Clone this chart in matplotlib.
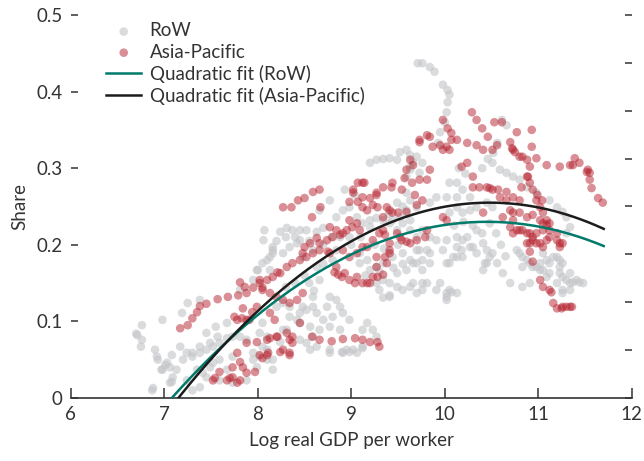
import numpy as np
import matplotlib
matplotlib.use("Agg")
import matplotlib.pyplot as plt

plt.rcParams['font.family'] = ['Lato', 'DejaVu Sans']

# values (log real GDP per worker, share)
row_points = [
    (8.07, 0.219), (8.06, 0.206), (6.76, 0.095), (6.70, 0.084), (6.76, 0.076), (6.75, 0.067), (6.98, 0.102),
    (7.19, 0.111), (7.25, 0.124), (7.38, 0.128), (6.90, 0.063), (6.93, 0.050), (7.01, 0.043), (6.97, 0.037),
    (7.08, 0.056), (7.06, 0.040), (7.13, 0.037), (7.08, 0.021), (6.88, 0.013), (7.20, 0.050), (7.30, 0.059),
    (7.38, 0.067), (7.49, 0.072), (7.57, 0.080), (7.67, 0.098), (7.55, 0.093), (7.45, 0.085), (7.24, 0.023),
    (7.35, 0.037), (7.41, 0.033), (7.49, 0.040), (7.59, 0.023), (7.67, 0.037), (7.81, 0.141), (7.95, 0.154),
    (8.00, 0.167), (8.10, 0.180), (8.16, 0.189), (8.13, 0.167), (7.88, 0.076), (7.95, 0.059), (8.05, 0.067),
    (8.10, 0.050), (7.99, 0.040), (8.16, 0.037), (7.73, 0.054), (7.88, 0.023), (7.73, 0.020), (6.92, 0.054),
    (7.03, 0.046), (6.98, 0.037), (7.09, 0.027), (7.06, 0.020), (7.17, 0.067), (7.24, 0.059), (7.30, 0.054),
    (7.38, 0.059), (7.45, 0.063), (7.52, 0.067), (7.59, 0.072), (7.67, 0.078), (7.73, 0.080), (7.81, 0.080),
    (7.52, 0.046), (7.59, 0.050), (7.45, 0.027), (7.38, 0.014), (7.30, 0.010), (7.95, 0.050), (8.02, 0.054),
    (8.10, 0.063), (8.16, 0.050), (8.45, 0.076), (8.52, 0.072), (8.59, 0.080), (6.87, 0.010), (6.71, 0.082),
    (9.20, 0.307), (9.27, 0.311), (9.34, 0.312), (9.41, 0.313), (9.49, 0.311), (9.52, 0.321), (9.59, 0.324),
    (9.63, 0.317), (9.66, 0.308), (9.63, 0.298), (9.59, 0.289), (9.70, 0.315), (9.76, 0.307), (9.73, 0.294),
    (8.24, 0.217), (8.31, 0.222), (8.37, 0.219), (8.45, 0.219), (8.52, 0.219), (8.63, 0.217), (8.70, 0.222),
    (8.16, 0.197), (8.13, 0.184), (8.05, 0.176), (7.99, 0.167), (8.27, 0.189), (8.34, 0.197), (8.42, 0.202),
    (9.20, 0.232), (9.27, 0.235), (9.34, 0.232), (9.44, 0.232), (9.52, 0.236), (9.49, 0.255), (9.59, 0.268),
    (9.63, 0.258), (9.09, 0.189), (9.17, 0.180), (9.09, 0.176), (9.20, 0.167), (9.27, 0.171), (9.34, 0.176),
    (9.44, 0.184), (9.55, 0.189), (9.63, 0.180), (9.70, 0.176), (9.76, 0.180), (9.81, 0.193), (9.70, 0.193),
    (9.49, 0.145), (9.55, 0.141), (9.63, 0.145), (9.70, 0.137), (9.76, 0.141), (9.41, 0.132), (8.20, 0.119),
    (8.27, 0.124), (8.34, 0.119), (8.34, 0.106), (8.42, 0.102), (8.45, 0.111), (8.48, 0.119), (8.59, 0.119),
    (8.63, 0.111), (8.70, 0.102), (8.77, 0.093), (8.66, 0.089), (8.56, 0.093), (8.05, 0.098), (8.02, 0.085),
    (8.10, 0.080), (8.27, 0.089), (8.24, 0.073), (9.17, 0.098), (9.23, 0.089), (9.27, 0.080), (9.12, 0.067),
    (9.02, 0.063), (8.95, 0.063), (8.90, 0.060), (8.77, 0.063), (8.63, 0.067), (8.56, 0.063), (8.84, 0.128),
    (8.88, 0.119), (8.91, 0.111), (8.98, 0.102),
    (9.71, 0.437), (9.76, 0.437), (9.84, 0.432), (9.89, 0.426), (9.98, 0.409), (10.03, 0.402), (10.05, 0.396),
    (10.03, 0.386), (10.02, 0.373), (10.00, 0.360), (9.95, 0.347), (9.93, 0.333), (9.63, 0.302),
    (10.05, 0.281), (10.13, 0.281), (10.19, 0.272), (10.27, 0.262), (10.13, 0.262), (10.02, 0.262), (9.91, 0.262),
    (9.84, 0.255), (9.70, 0.249), (9.59, 0.245), (10.13, 0.249), (10.05, 0.242), (10.19, 0.242), (10.27, 0.245),
    (10.34, 0.249), (10.45, 0.255), (10.51, 0.249), (10.48, 0.228), (10.34, 0.219), (10.24, 0.210), (10.13, 0.210),
    (10.02, 0.206), (9.91, 0.206), (9.84, 0.210), (9.76, 0.219), (9.70, 0.210), (9.73, 0.193), (9.84, 0.189),
    (9.98, 0.193), (10.13, 0.197), (10.27, 0.197), (10.41, 0.202), (10.45, 0.193), (10.51, 0.189), (10.56, 0.176),
    (10.62, 0.163), (10.70, 0.150), (10.45, 0.176), (10.34, 0.189), (10.19, 0.184), (10.13, 0.184), (10.05, 0.176),
    (9.66, 0.176), (9.59, 0.167), (9.49, 0.163), (9.34, 0.154), (9.41, 0.150), (9.27, 0.150), (9.66, 0.150),
    (9.76, 0.150), (9.95, 0.150), (10.05, 0.141), (10.13, 0.137), (10.02, 0.132), (9.91, 0.141),
    (10.77, 0.193), (10.83, 0.184), (10.91, 0.176), (10.98, 0.171), (11.05, 0.167), (11.12, 0.176), (11.20, 0.184),
    (11.23, 0.171), (11.26, 0.158), (11.34, 0.150), (11.41, 0.154), (11.48, 0.150), (11.26, 0.141), (11.20, 0.150),
    (10.91, 0.150), (10.83, 0.145), (8.98, 0.249), (8.91, 0.245), (8.84, 0.236), (9.06, 0.236), (9.12, 0.228),
    (9.20, 0.223), (9.41, 0.228), (9.49, 0.219), (9.55, 0.228), (9.63, 0.232), (9.63, 0.219), (8.79, 0.210),
    (8.88, 0.210), (8.98, 0.210), (8.84, 0.193),
    (10.61, 0.363), (10.66, 0.356), (10.51, 0.307), (10.59, 0.298), (10.66, 0.294), (10.73, 0.289), (10.80, 0.285),
    (10.88, 0.275), (10.98, 0.268), (11.12, 0.258), (11.20, 0.249), (11.26, 0.243), (11.30, 0.236), (11.34, 0.223),
    (11.30, 0.215), (10.48, 0.184), (10.43, 0.176), (10.41, 0.167), (10.80, 0.189), (10.88, 0.180), (10.94, 0.171),
    (11.02, 0.176), (11.09, 0.180), (11.16, 0.184), (11.23, 0.180), (11.23, 0.163), (11.30, 0.154), (11.37, 0.151),
    (11.44, 0.151), (11.09, 0.158), (11.02, 0.167), (10.83, 0.171), (11.26, 0.137), (11.12, 0.163), (11.05, 0.189),
    (9.12, 0.089), (8.88, 0.089), (8.91, 0.059), (8.98, 0.060), (9.06, 0.059), (9.12, 0.065), (9.81, 0.150),
    (10.02, 0.137), (10.07, 0.138), (10.02, 0.128), (9.34, 0.131), (9.41, 0.134), (9.30, 0.141), (10.19, 0.206),
    (10.30, 0.197), (10.18, 0.193), (10.09, 0.184), (10.02, 0.176), (9.84, 0.176), (9.76, 0.167), (11.26, 0.176),
    (11.34, 0.163), (11.34, 0.141), (8.77, 0.059), (8.16, 0.193), (8.45, 0.206), (8.48, 0.184), (8.59, 0.193),
    (8.63, 0.171), (8.66, 0.154), (8.77, 0.132), (8.74, 0.119), (8.80, 0.106), (8.59, 0.132), (8.52, 0.115),
    (8.45, 0.098), (8.31, 0.089), (8.93, 0.272), (9.04, 0.265), (8.77, 0.258), (8.66, 0.245),
    (10.15, 0.300), (10.22, 0.293), (10.40, 0.300), (10.46, 0.312), (10.52, 0.320), (10.56, 0.333),
    (8.20, 0.205), (8.30, 0.210), (8.40, 0.210), (8.55, 0.205), (8.70, 0.200), (8.50, 0.160), (8.55, 0.150),
    (8.40, 0.150), (8.30, 0.145), (8.60, 0.140), (8.70, 0.175), (8.80, 0.180), (9.00, 0.200), (9.10, 0.210),
    (9.25, 0.200), (9.35, 0.195), (9.50, 0.200), (9.15, 0.160), (9.30, 0.165), (9.45, 0.170), (9.55, 0.175),
    (9.40, 0.240), (9.55, 0.250), (10.10, 0.225), (10.20, 0.230), (10.30, 0.225), (10.40, 0.215), (10.55, 0.215),
    (10.60, 0.200), (10.65, 0.185),
]

ap_points = [
    (7.17, 0.091), (7.25, 0.095), (7.30, 0.104), (7.35, 0.112), (7.38, 0.120), (7.45, 0.123), (7.57, 0.129),
    (7.68, 0.132), (7.79, 0.134), (7.81, 0.151), (7.86, 0.145), (7.88, 0.137), (7.95, 0.144), (8.02, 0.154),
    (8.10, 0.154), (8.16, 0.158), (8.21, 0.164), (8.05, 0.144), (7.75, 0.106), (7.78, 0.102), (7.83, 0.104),
    (7.88, 0.102), (7.94, 0.112), (7.84, 0.117), (7.88, 0.072), (7.99, 0.073), (8.10, 0.076), (8.20, 0.080),
    (7.78, 0.059), (7.81, 0.047), (7.73, 0.040), (7.59, 0.034), (7.54, 0.026), (7.67, 0.023), (7.73, 0.027),
    (7.78, 0.020), (7.81, 0.023), (7.88, 0.033), (7.97, 0.034), (8.05, 0.052), (8.11, 0.059), (7.84, 0.040),
    (7.52, 0.023), (7.70, 0.026), (8.13, 0.078), (8.31, 0.085), (8.34, 0.076), (8.10, 0.056), (8.24, 0.060),
    (8.34, 0.056), (8.27, 0.063),
    (8.27, 0.249), (8.36, 0.249), (8.43, 0.258), (8.50, 0.261), (8.59, 0.269), (8.66, 0.272), (8.67, 0.249),
    (8.58, 0.236), (9.07, 0.281), (9.14, 0.281), (9.02, 0.268), (8.98, 0.256), (9.07, 0.256), (9.20, 0.261),
    (9.27, 0.265), (9.34, 0.275), (9.44, 0.281), (9.57, 0.287), (9.66, 0.304), (9.73, 0.334), (9.81, 0.343),
    (9.12, 0.249), (9.17, 0.245), (9.23, 0.252), (9.28, 0.249), (9.41, 0.245), (9.50, 0.242), (9.59, 0.243),
    (9.70, 0.252), (9.76, 0.258), (9.68, 0.265), (8.77, 0.223), (8.84, 0.219), (8.88, 0.213), (8.91, 0.215),
    (8.95, 0.219), (8.98, 0.232), (9.01, 0.223), (9.06, 0.228), (9.09, 0.219), (8.80, 0.210), (8.74, 0.206),
    (8.66, 0.202), (8.63, 0.209), (8.56, 0.202), (8.50, 0.197), (8.48, 0.189), (8.45, 0.180), (8.52, 0.184),
    (8.59, 0.189), (8.66, 0.193), (8.75, 0.191), (8.82, 0.164), (8.86, 0.161), (8.90, 0.158), (8.93, 0.163),
    (8.98, 0.154), (9.04, 0.150), (9.06, 0.158), (9.12, 0.150), (9.20, 0.150), (9.28, 0.158), (9.34, 0.161),
    (9.17, 0.197), (9.23, 0.206), (9.30, 0.215), (9.36, 0.213), (9.41, 0.202), (9.49, 0.215), (9.52, 0.210),
    (9.59, 0.204), (9.70, 0.206), (9.79, 0.210), (9.81, 0.219), (9.38, 0.176), (9.36, 0.184), (9.27, 0.184),
    (8.02, 0.150), (8.24, 0.163), (8.31, 0.171), (8.37, 0.176), (8.05, 0.141), (8.13, 0.137), (8.20, 0.132),
    (8.27, 0.128), (8.34, 0.124), (8.42, 0.128), (8.48, 0.137), (7.99, 0.119), (7.91, 0.102), (8.13, 0.111),
    (8.18, 0.102), (8.21, 0.080), (8.37, 0.080), (8.45, 0.098), (8.37, 0.072), (8.34, 0.059), (8.58, 0.080),
    (8.66, 0.076), (8.79, 0.074), (8.91, 0.077), (9.04, 0.078), (9.12, 0.076), (9.20, 0.073), (9.28, 0.073),
    (9.30, 0.067), (8.02, 0.056),
    (10.29, 0.373), (10.34, 0.363), (10.40, 0.352), (10.53, 0.360), (10.61, 0.360), (10.77, 0.347), (10.93, 0.350),
    (10.46, 0.341), (10.56, 0.330), (10.70, 0.334), (10.72, 0.326), (10.75, 0.321), (10.80, 0.315), (10.88, 0.311),
    (10.91, 0.302), (10.93, 0.328), (10.98, 0.313), (11.09, 0.304), (11.23, 0.302), (11.34, 0.304), (11.39, 0.313),
    (11.44, 0.307), (11.52, 0.295), (9.98, 0.363), (10.03, 0.352), (10.07, 0.346), (10.07, 0.337), (10.02, 0.328),
    (10.05, 0.324), (10.13, 0.337), (10.24, 0.333), (10.34, 0.330), (10.41, 0.324), (10.51, 0.324), (10.24, 0.307),
    (10.18, 0.302), (10.30, 0.289), (9.73, 0.337), (9.84, 0.341), (9.87, 0.328), (9.95, 0.330), (9.98, 0.324),
    (9.63, 0.311), (9.59, 0.298), (9.84, 0.298), (9.81, 0.285), (9.73, 0.285), (9.65, 0.281), (9.54, 0.272),
    (9.43, 0.275), (9.27, 0.268), (9.12, 0.281), (9.02, 0.272), (9.12, 0.262),
    (10.30, 0.275), (10.37, 0.275), (10.45, 0.275), (10.51, 0.272), (10.59, 0.262), (10.66, 0.258), (10.73, 0.262),
    (10.82, 0.275), (10.88, 0.289), (10.91, 0.281), (10.94, 0.272), (10.98, 0.258), (11.02, 0.249), (11.05, 0.242),
    (11.09, 0.232), (11.12, 0.228), (10.70, 0.245), (10.62, 0.236), (10.73, 0.232), (10.77, 0.219), (10.83, 0.219),
    (10.91, 0.215), (10.94, 0.206), (10.88, 0.202), (10.98, 0.202), (11.05, 0.197), (11.12, 0.210), (11.20, 0.206),
    (11.23, 0.202), (11.05, 0.228), (10.41, 0.242), (9.98, 0.236), (10.02, 0.232), (9.44, 0.242), (9.38, 0.249),
    (9.34, 0.236), (9.63, 0.202), (9.54, 0.206), (9.41, 0.189), (9.27, 0.171), (9.23, 0.158), (9.17, 0.150),
    (8.84, 0.171), (8.77, 0.189), (8.91, 0.193), (8.98, 0.184), (9.06, 0.189), (9.12, 0.197), (9.34, 0.219),
    (9.41, 0.193), (11.02, 0.154), (11.05, 0.145), (11.12, 0.141), (11.26, 0.119), (11.34, 0.119),
    (11.37, 0.304), (11.53, 0.298), (11.55, 0.294), (11.55, 0.285), (11.57, 0.274), (11.64, 0.261), (11.69, 0.255),
    (10.73, 0.324), (10.83, 0.315), (10.89, 0.289), (10.99, 0.265), (11.04, 0.258), (10.48, 0.274), (10.57, 0.272),
    (10.66, 0.269), (10.80, 0.258), (10.73, 0.242), (10.80, 0.242), (10.88, 0.236), (10.94, 0.239), (11.02, 0.232),
    (11.09, 0.226), (11.12, 0.219), (11.20, 0.215), (11.26, 0.202), (11.23, 0.197), (10.70, 0.223), (10.73, 0.215),
    (10.80, 0.219), (10.88, 0.215), (10.94, 0.210), (10.91, 0.202), (10.98, 0.215), (11.05, 0.219), (11.09, 0.206),
    (11.02, 0.202), (10.91, 0.191), (10.94, 0.178), (11.14, 0.138), (11.16, 0.124), (11.20, 0.117), (11.25, 0.117),
    (11.30, 0.119), (11.36, 0.119),
]

# quadratic fits in vertex form: share = a * (x - h)^2 + k
row_fit = (-0.02025, 10.45, 0.230)
ap_fit = (-0.0230, 10.48, 0.255)
fit_range = (6.9, 11.7)

x_ticks = [6, 7, 8, 9, 10, 11, 12]
y_ticks = [0, 0.1, 0.2, 0.3, 0.4, 0.5]
y_tick_labels = ['0', '0.1', '0.2', '0.3', '0.4', '0.5']
right_ticks = [0, 0.0625, 0.125, 0.1875, 0.25, 0.3125, 0.375, 0.4375, 0.5]

GREY = '#c4c5c8'
RED = '#b5202c'
TEAL = '#007a6a'
BLACK = '#1c1c1c'
INK = '#333333'
FS = 13.5

fig = plt.figure(figsize=(6.44, 4.61), dpi=100)
ax = fig.add_axes([0.110, 0.1367, 0.871, 0.8308])

row = np.array(row_points)
ap = np.array(ap_points)
ax.scatter(row[:, 0], row[:, 1], s=38, color=GREY, alpha=0.62, edgecolors='none',
           label='RoW', zorder=2)
ax.scatter(ap[:, 0], ap[:, 1], s=38, color=RED, alpha=0.5, edgecolors='none',
           label='Asia-Pacific', zorder=3)

xs = np.linspace(fit_range[0], fit_range[1], 200)
for (a, h, k), col, lab in [(row_fit, TEAL, 'Quadratic fit (RoW)'),
                            (ap_fit, BLACK, 'Quadratic fit (Asia-Pacific)')]:
    ax.plot(xs, a * (xs - h) ** 2 + k, color=col, lw=1.8, label=lab, zorder=4)

ax.set_xlim(6, 12)
ax.set_ylim(0, 0.5)
ax.set_xticks(x_ticks)
ax.set_yticks(y_ticks)
ax.set_yticklabels(y_tick_labels)

for side in ['left', 'right', 'top']:
    ax.spines[side].set_visible(False)
ax.spines['bottom'].set_color(INK)
ax.spines['bottom'].set_linewidth(1.2)
ax.tick_params(axis='x', direction='in', length=7, width=1.1, color=INK,
               labelcolor=INK, labelsize=FS, pad=6)
ax.tick_params(axis='y', direction='in', length=5, width=1.1, color=INK,
               labelcolor=INK, labelsize=FS, pad=6)

ax2 = ax.twinx()
ax2.set_ylim(0, 0.5)
ax2.set_yticks(right_ticks)
ax2.tick_params(axis='y', direction='in', length=5, width=1.1, color=INK,
                labelright=False)
for side in ['left', 'right', 'top', 'bottom']:
    ax2.spines[side].set_visible(False)

ax.set_xlabel('Log real GDP per worker', fontsize=FS, color=INK, labelpad=6)
ax.set_ylabel('Share', fontsize=FS, color=INK, labelpad=6)

leg = ax.legend(loc='upper left', bbox_to_anchor=(0.05, 1.0), frameon=False,
                fontsize=FS, handlelength=1.85, handletextpad=0.45,
                labelspacing=0.22, borderaxespad=0)
for t in leg.get_texts():
    t.set_color(INK)

fig.savefig('out.png', dpi=100)
